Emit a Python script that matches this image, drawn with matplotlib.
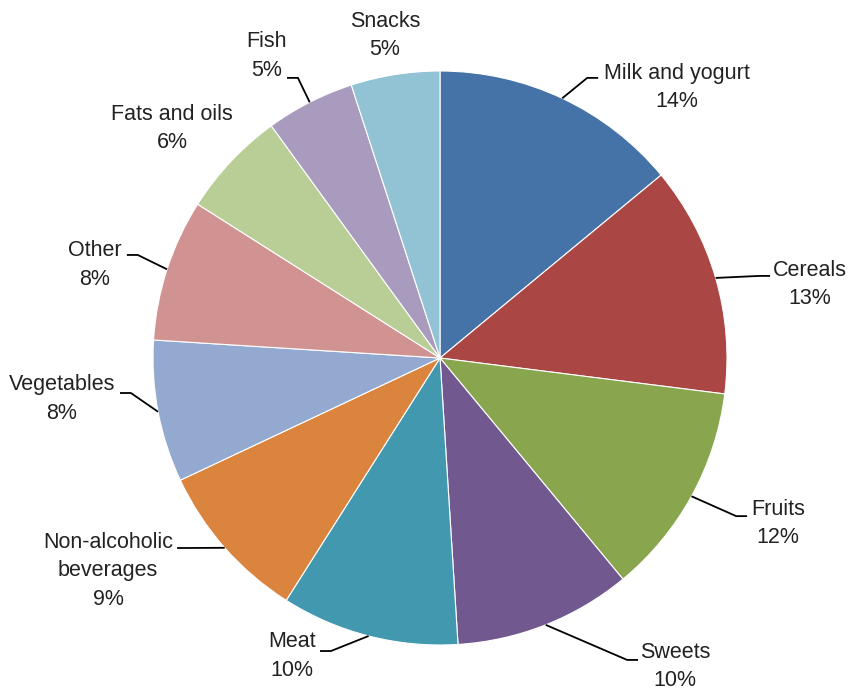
import numpy as np
import matplotlib
matplotlib.use("Agg")
import matplotlib.pyplot as plt

# Share of household food spending by category (%)
categories = [
    "Milk and yogurt", "Cereals", "Fruits", "Sweets", "Meat",
    "Non-alcoholic\nbeverages", "Vegetables", "Other", "Fats and oils",
    "Fish", "Snacks",
]
shares = [14, 13, 12, 10, 10, 9, 8, 8, 6, 5, 5]

colors = [
    "#4572A7", "#AA4643", "#89A54E", "#71588F", "#4198AF", "#DB843D",
    "#93A9CF", "#D19392", "#B9CD96", "#A99BBD", "#92C3D4",
]

# label block centres and leader-line ends, in units of the pie radius
label_pos = [
    (0.826, 0.943), (1.289, 0.256), (1.178, -0.578), (0.819, -1.075),
    (-0.516, -1.038), (-1.157, -0.742), (-1.317, -0.143), (-1.202, 0.324),
    (-0.934, 0.800), (-0.603, 1.052), (-0.192, 1.125),
]
leader_end = [
    (0.551, 0.976), (1.150, 0.286), (1.070, -0.551), (0.690, -1.052),
    (-0.418, -1.021), (-0.916, -0.662), (-1.115, -0.122), (-1.091, 0.359),
    None, (-0.533, 0.976), None,
]

W, H = 849, 691
CX, CY, R = 440, 358, 287

fig = plt.figure(figsize=(W / 100, H / 100), dpi=100)
ax = fig.add_axes([0, 0, 1, 1])

wedges, _ = ax.pie(
    shares, colors=colors, startangle=90, counterclock=False,
    wedgeprops=dict(edgecolor="white", linewidth=0.8),
)

ax.set_xlim(-CX / R, (W - CX) / R)
ax.set_ylim(-(H - CY) / R, CY / R)
ax.set_aspect("equal")
ax.axis("off")

total = sum(shares)
for w, name, val, pos, end in zip(wedges, categories, shares, label_pos, leader_end):
    ax.text(pos[0], pos[1], f"{name}\n{val / total:.0%}",
            ha="center", va="center", fontsize=15.5, color="#222222",
            family="Liberation Sans", linespacing=1.45)
    if end is None:
        continue
    mid = np.deg2rad((w.theta1 + w.theta2) / 2)
    sx, sy = np.cos(mid), np.sin(mid)
    side = 1 if end[0] < 0 else -1
    elbow = (end[0] + 0.038 * side, end[1])
    ax.plot([sx, elbow[0], end[0]], [sy, elbow[1], end[1]],
            color="black", linewidth=1.3, solid_capstyle="butt")

fig.savefig("out.png", dpi=100, facecolor="white")
